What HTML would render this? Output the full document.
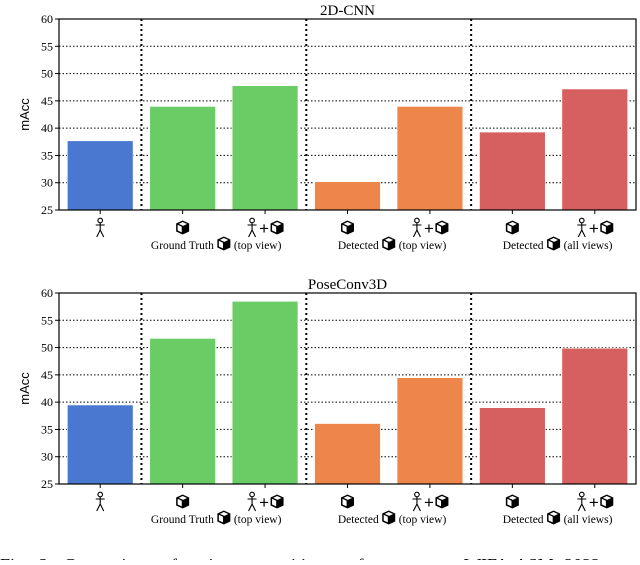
<!DOCTYPE html>
<html><head><meta charset="utf-8"><style>
body{margin:0;background:#fff;width:640px;height:560px;overflow:hidden}
svg text{font-family:"Liberation Serif",serif;fill:#000}
svg text.sans{font-family:"Liberation Sans",sans-serif}
</style></head><body>
<svg id="s" width="640" height="560" xmlns="http://www.w3.org/2000/svg">
<defs>
<g id="person"><circle cx="0" cy="-7.5" r="2.3" fill="none" stroke="#000" stroke-width="1.1"/><path d="M0 -5 V2 M-4.5 -3 H4.5 M0 2 L-3.5 9 M0 2 L3.5 9" stroke="#000" stroke-width="1.1" fill="none"/></g>
<g id="cube"><path d="M0 -7.5 L6.5 -4.5 L6.5 3.5 L0 6.5 L-6.5 3.5 L-6.5 -4.5 Z" fill="#000"/><path d="M-5 -3.2 L-0.9 -1.3 L-0.9 4.4 L-5 2.5 Z" fill="#fff"/><path d="M0 -6 L4.4 -4 L0.5 -2.1 L-3.9 -4.1 Z" fill="#fff"/></g>
</defs>
</svg>
<script>
const categories=['person','cube','person+cube','cube','person+cube','cube','person+cube'];
const groupLabels=['Ground Truth','Detected','Detected'];
const groupSuffix=['(top view)','(top view)','(all views)'];
const values2d=[37.7,44.0,47.8,30.2,44.0,39.3,47.2];
const valuesPose=[39.5,51.7,58.5,36.1,44.5,39.0,49.9];
const yTicks=[25,30,35,40,45,50,55,60];
const colors=['#4a78d0','#6acc65','#6acc65','#ee854a','#ee854a','#d65f5f','#d65f5f'];
const NS='http://www.w3.org/2000/svg';
const svg=document.getElementById('s');
function mk(t,a,p){const e=document.createElementNS(NS,t);for(const k in a)e.setAttribute(k,a[k]);(p||svg).appendChild(e);return e;}
function chart(title,vals,top,name){
  const L=59,R=636,T=top,B=top+191,ymin=25,ymax=60;
  const g=mk('g',{});
  
  
  const y=v=>B-(v-ymin)/(ymax-ymin)*(B-T);
  const step=(R-L)/categories.length;
  const x=i=>L+step*(i+0.5);
  yTicks.forEach(t=>{
    if(t>ymin&&t<ymax){const l=mk('line',{x1:L,x2:R,y1:y(t),y2:y(t),stroke:'#000','stroke-width':1,'stroke-dasharray':'1.5,2'},g);
    }
    mk('line',{x1:L-4,x2:L,y1:y(t),y2:y(t),stroke:'#000'},g);
    const tx=mk('text',{x:L-6,y:y(t)+4,'text-anchor':'end','font-size':12},g);tx.textContent=t;
    
  });
  vals.forEach((v,i)=>{
    const r=mk('rect',{x:x(i)-33,y:y(v),width:66,height:B-y(v),fill:colors[i],stroke:'#fff','stroke-width':0.8},g);
    
    mk('line',{x1:x(i),x2:x(i),y1:B,y2:B+4,stroke:'#000'},g);
    const c=categories[i],iy=B+18;
    if(c==='person')mk('use',{href:'#person',x:x(i),y:iy},g);
    else if(c==='cube')mk('use',{href:'#cube',x:x(i),y:iy},g);
    else{mk('use',{href:'#person',x:x(i)-13,y:iy},g);const p=mk('text',{x:x(i)-1,y:iy+6,'text-anchor':'middle','font-size':17,'class':'sans'},g);p.textContent='+';mk('use',{href:'#cube',x:x(i)+12,y:iy},g);}
  });
  [1,3,5].forEach((k,j)=>{
    const xx=(x(k)+x(k-1))/2;
    const d=mk('line',{x1:xx,x2:xx,y1:T,y2:B,stroke:'#000','stroke-width':2,'stroke-dasharray':'2,3'},g);
    
    const cx=(x(k)+x(k+1))/2, ly=B+39;
    const t1=mk('text',{x:cx-10,y:ly,'text-anchor':'end','font-size':11.5},g);t1.textContent=groupLabels[j];
    mk('use',{href:'#cube',x:cx,y:ly-5},g);
    const t2=mk('text',{x:cx+10,y:ly,'text-anchor':'start','font-size':11.5},g);t2.textContent=groupSuffix[j];
    
  });
  mk('rect',{x:L,y:T,width:R-L,height:B-T,fill:'none',stroke:'#000','stroke-width':1.2},g);
  const tt=mk('text',{x:(L+R)/2,y:T-4,'text-anchor':'middle','font-size':15},g);tt.textContent=title;
  
  const yl=mk('text',{x:0,y:0,'text-anchor':'middle','font-size':13,'class':'sans',transform:`translate(${L-30},${(T+B)/2}) rotate(-90)`},g);yl.textContent='mAcc';
  
}
chart('2D-CNN',values2d,19,'chart-2d-cnn');
chart('PoseConv3D',valuesPose,293,'chart-poseconv3d');
const cap=mk('text',{x:0,y:571,'font-size':18,'word-spacing':'6'});cap.textContent='Fig. 3:   Comparison of action recognition performance on WIFA-ASM 2022';

</script>
</body></html>
